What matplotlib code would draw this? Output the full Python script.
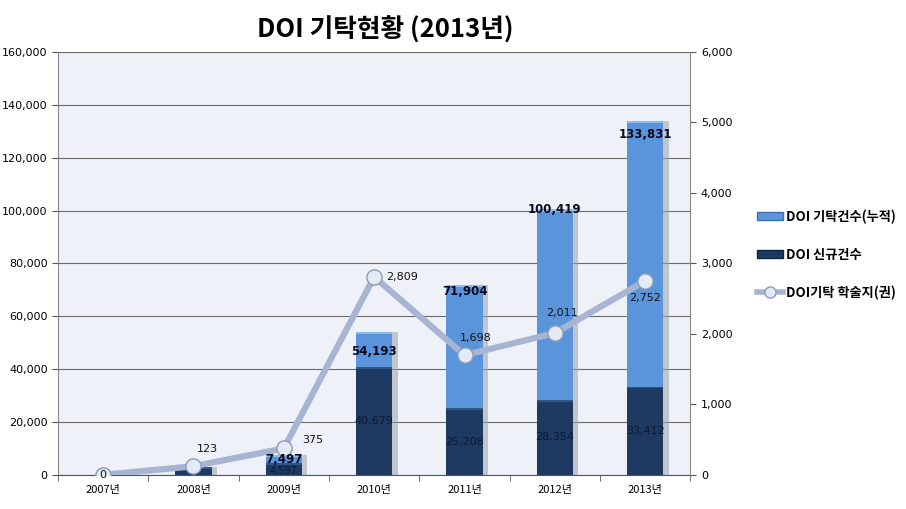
import matplotlib
matplotlib.use("Agg")
import matplotlib.pyplot as plt
from matplotlib.lines import Line2D
from matplotlib.patches import Patch
import numpy as np

plt.rcParams['font.family'] = ['Noto Sans CJK KR', 'DejaVu Sans']

# data
years = ['2007년', '2008년', '2009년', '2010년', '2011년', '2012년', '2013년']
cumulative = [0, 2900, 7497, 54193, 71904, 100419, 133831]
new_count = [0, 2900, 4597, 40679, 25208, 28354, 33412]
journals = [0, 123, 375, 2809, 1698, 2011, 2752]
cum_labels = [None, None, '7,497', '54,193', '71,904', '100,419', '133,831']
new_labels = [None, None, '4,597', '40,679', '25,208', '28,354', '33,412']

light_blue = '#5a95dc'
dark_blue = '#1e3a62'
line_col = '#a7b5d3'

fig = plt.figure(figsize=(9.06, 5.09), dpi=100)
fig.patch.set_facecolor('white')
ax = fig.add_axes([0.064, 0.067, 0.698, 0.831])
ax.set_facecolor('#eef2f8')
x = np.arange(len(years))
w = 0.4

# shadow bars
ax.bar(x + 0.06, cumulative, width=w, color='#9aa3ad', alpha=0.55, zorder=2)
ax.bar(x, cumulative, width=w, color=light_blue, zorder=3)
ax.bar(x, new_count, width=w, color=dark_blue, zorder=4)
# small highlight at top of bars
for xi, c, n in zip(x, cumulative, new_count):
    if c > 0:
        ax.bar(xi, 900, bottom=c - 900, width=w, color='#8dbdf0', zorder=3.5)
        ax.bar(xi, 700, bottom=n - 700, width=w, color='#2f5486', zorder=4.5)

ax.set_xlim(-0.5, len(years) - 0.5)
ax.set_ylim(0, 160000)
ax.set_yticks(np.arange(0, 160001, 20000))
ax.set_yticklabels([f'{v:,}' for v in range(0, 160001, 20000)], fontsize=8,
                   family=['DejaVu Sans'])
ax.set_xticks(x)
ax.set_xticklabels(years, fontsize=8)
ax.set_xticks(np.arange(-0.5, len(years)), minor=True)
ax.tick_params(axis='x', which='major', length=0, pad=7)
ax.tick_params(axis='x', which='minor', length=4, color='#555555')
ax.tick_params(axis='y', length=4, color='#555555')
ax.grid(axis='y', color='#6a6a6a', linewidth=0.8, zorder=1)
ax.set_axisbelow(True)
for s in ['top', 'right']:
    ax.spines[s].set_visible(False)
ax.spines['left'].set_color('#888888')
ax.spines['bottom'].set_color('#555555')

ax2 = ax.twinx()
ax2.set_ylim(0, 6000)
ax2.set_yticks(np.arange(0, 6001, 1000))
ax2.set_yticklabels([f'{v:,}' for v in range(0, 6001, 1000)], fontsize=8,
                    family=['DejaVu Sans'])
ax2.tick_params(axis='y', length=4, color='#555555')
for s in ['top', 'left', 'bottom']:
    ax2.spines[s].set_visible(False)
ax2.spines['right'].set_color('#888888')
ax2.plot(x, journals, color=line_col, linewidth=4.5, zorder=5,
         marker='o', markersize=11, markerfacecolor='#e4eaf4',
         markeredgecolor='#8d9bb8', markeredgewidth=1)

# bar labels drawn on top axes so the line does not hide them
cum_off = [0, 0, 1800, 7500, 2600, 0, 4900]
for xi, c, lab, off in zip(x, cumulative, cum_labels, cum_off):
    if lab:
        ax2.text(xi, c - off, lab, ha='center', va='center', fontsize=8.5,
                 fontweight='bold', color='#0a0a20', family=['DejaVu Sans'],
                 zorder=6, transform=ax.transData)
for xi, n, lab in zip(x, new_count, new_labels):
    if lab:
        ax2.text(xi, n / 2 if n > 8000 else n / 2 - 700, lab, ha='center', va='center',
                 fontsize=8 if n > 8000 else 7, color='#0c1a33',
                 family=['DejaVu Sans'], zorder=6, transform=ax.transData)

offsets = [(0, 0), (0.15, 250), (0.32, 113), (0.31, 0), (0.12, 240), (0.08, 280), (0, -240)]
for xi, j, (dx, dy) in zip(x, journals, offsets):
    ax2.text(xi + dx, j + dy, f'{j:,}', ha='center', va='center', fontsize=8,
             color='#111111', family=['DejaVu Sans'], zorder=7)

fig.text(0.425, 0.94, 'DOI 기탁현황 (2013년)', ha='center', va='center',
         fontsize=18.5, fontweight='bold')

handles = [
    Patch(facecolor=light_blue, edgecolor='#3d6fb0'),
    Patch(facecolor=dark_blue, edgecolor='#0f2240'),
    Line2D([0], [0], color=line_col, linewidth=4, marker='o', markersize=8,
           markerfacecolor='#e4eaf4', markeredgecolor='#8d9bb8'),
]
labels = ['DOI 기탁건수(누적)', 'DOI 신규건수', 'DOI기탁 학술지(권)']
fig.legend(handles, labels, loc='center left', bbox_to_anchor=(0.822, 0.5),
           frameon=False, prop={'weight': 'bold', 'size': 9.5},
           labelspacing=1.8, handlelength=2.0, handleheight=0.5, handletextpad=0.2)

fig.savefig('out.png', dpi=100)
